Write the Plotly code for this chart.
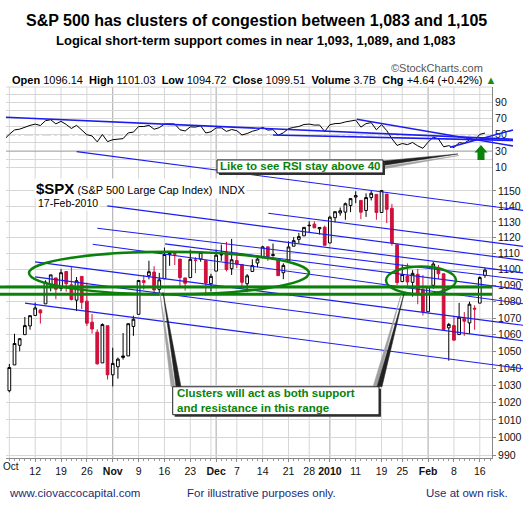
import numpy as np
import plotly.graph_objects as go

# ------------------------------------------------------------------ data
dates = (
    ["2009-10-%02d" % d for d in [1, 2, 5, 6, 7, 8, 9, 12, 13, 14, 15, 16, 19, 20, 21, 22, 23, 26, 27, 28, 29, 30]]
    + ["2009-11-%02d" % d for d in [2, 3, 4, 5, 6, 9, 10, 11, 12, 13, 16, 17, 18, 19, 20, 23, 24, 25, 27, 30]]
    + ["2009-12-%02d" % d for d in [1, 2, 3, 4, 7, 8, 9, 10, 11, 14, 15, 16, 17, 18, 21, 22, 23, 24, 28, 29, 30, 31]]
    + ["2010-01-%02d" % d for d in [4, 5, 6, 7, 8, 11, 12, 13, 14, 15, 19, 20, 21, 22, 25, 26, 27, 28, 29]]
    + ["2010-02-%02d" % d for d in [1, 2, 3, 4, 5, 8, 9, 10, 11, 12, 16, 17]]
)
opens = [1054.91, 1029.71, 1026.87, 1042.02, 1053.65, 1060.03, 1065.28, 1071.63, 1074.96, 1078.68, 1090.36, 1094.67, 1088.22, 1098.64, 1090.36, 1080.96, 1095.62, 1080.36, 1067.54, 1061.51, 1043.19, 1065.41,
         1036.18, 1040.92, 1047.30, 1047.30, 1064.95, 1072.31, 1091.86, 1096.04, 1098.31, 1087.59, 1094.13, 1109.22, 1109.44, 1106.44, 1094.66, 1094.86, 1105.83, 1106.49, 1105.47, 1091.07,
         1098.89, 1109.03, 1110.59, 1100.43, 1105.52, 1103.04, 1091.07, 1098.69, 1103.96, 1107.84, 1114.11, 1108.61, 1106.36, 1097.86, 1105.31, 1114.51, 1118.84, 1121.08, 1127.53, 1128.55, 1125.53, 1126.60,
         1116.56, 1132.66, 1135.71, 1136.27, 1140.52, 1145.96, 1143.81, 1137.31, 1145.68, 1147.72, 1136.03, 1147.95, 1138.68, 1115.49, 1092.40, 1095.80, 1091.94, 1096.93, 1087.61,
         1073.89, 1090.05, 1100.67, 1097.25, 1064.12, 1065.51, 1060.06, 1069.68, 1067.10, 1075.95, 1079.13, 1096.14]
highs = [1054.91, 1030.60, 1042.58, 1060.55, 1058.02, 1070.67, 1071.51, 1079.46, 1075.30, 1093.17, 1096.56, 1094.67, 1100.17, 1098.64, 1101.36, 1095.21, 1095.83, 1091.75, 1072.48, 1063.26, 1066.83, 1065.41,
         1052.18, 1046.36, 1061.00, 1066.65, 1071.48, 1093.19, 1096.42, 1105.37, 1101.97, 1097.79, 1113.69, 1110.52, 1111.10, 1106.44, 1094.66, 1112.38, 1107.56, 1111.18, 1105.47, 1097.24,
         1112.28, 1115.58, 1117.28, 1119.13, 1110.72, 1103.04, 1097.04, 1106.25, 1108.50, 1114.76, 1114.11, 1116.21, 1106.36, 1103.74, 1117.68, 1120.27, 1122.97, 1126.48, 1130.38, 1130.38, 1126.42, 1127.64,
         1133.87, 1136.63, 1139.19, 1142.46, 1145.39, 1149.74, 1143.81, 1148.40, 1150.41, 1147.77, 1150.45, 1147.95, 1141.58, 1115.49, 1102.97, 1103.69, 1099.51, 1100.22, 1096.45,
         1089.38, 1104.73, 1102.72, 1097.25, 1067.13, 1071.20, 1079.28, 1073.67, 1080.04, 1077.81, 1095.67, 1101.03]
lows = [1029.45, 1019.95, 1025.92, 1042.02, 1050.10, 1060.03, 1063.00, 1071.63, 1066.71, 1078.68, 1086.41, 1081.53, 1086.48, 1086.16, 1080.77, 1074.31, 1075.49, 1065.23, 1060.62, 1042.19, 1043.19, 1033.38,
        1029.38, 1033.94, 1045.15, 1047.30, 1059.32, 1072.31, 1087.40, 1093.81, 1084.90, 1085.33, 1094.13, 1102.19, 1102.70, 1088.40, 1086.81, 1094.86, 1097.63, 1104.75, 1083.74, 1086.25,
        1098.89, 1105.29, 1098.74, 1096.52, 1100.83, 1088.61, 1085.89, 1098.69, 1101.34, 1107.84, 1105.35, 1107.96, 1095.88, 1093.88, 1105.31, 1114.51, 1116.41, 1121.08, 1123.51, 1126.08, 1121.94, 1114.81,
        1116.56, 1129.66, 1133.95, 1131.32, 1136.22, 1142.02, 1131.77, 1133.18, 1143.80, 1131.39, 1135.77, 1129.25, 1114.84, 1090.18, 1092.40, 1089.86, 1083.11, 1078.46, 1071.59,
        1073.89, 1087.96, 1093.97, 1062.78, 1044.50, 1056.51, 1060.06, 1059.34, 1060.59, 1062.97, 1079.13, 1094.72]
closes = [1029.85, 1025.21, 1040.46, 1054.72, 1057.58, 1065.48, 1071.49, 1076.19, 1073.19, 1092.02, 1096.56, 1087.68, 1097.91, 1091.06, 1081.40, 1092.91, 1079.60, 1066.95, 1063.41, 1042.63, 1066.11, 1036.19,
          1042.88, 1045.41, 1046.50, 1066.63, 1069.30, 1093.08, 1093.01, 1098.51, 1087.24, 1093.48, 1109.30, 1110.32, 1109.80, 1094.90, 1091.38, 1106.24, 1105.65, 1110.63, 1091.49, 1095.63,
          1108.86, 1109.24, 1099.92, 1105.98, 1103.25, 1091.94, 1095.95, 1102.35, 1106.41, 1114.11, 1107.93, 1109.18, 1096.08, 1102.47, 1114.05, 1118.02, 1120.59, 1126.48, 1127.78, 1126.20, 1126.42, 1115.10,
          1132.99, 1136.52, 1137.14, 1141.69, 1144.98, 1146.98, 1136.22, 1145.68, 1148.46, 1136.03, 1150.23, 1138.04, 1116.48, 1091.76, 1096.78, 1092.17, 1097.50, 1084.53, 1073.87,
          1089.19, 1103.32, 1097.28, 1063.11, 1066.19, 1056.74, 1070.52, 1068.13, 1078.47, 1075.51, 1094.87, 1099.51]
rsi = [45.7, 44.0, 50.6, 55.9, 56.9, 59.6, 61.5, 63.1, 61.4, 67.3, 68.5, 63.4, 66.5, 62.7, 57.7, 61.6,
       55.2, 50.0, 48.5, 41.2, 50.3, 41.5, 43.9, 44.8, 45.2, 52.3, 53.2, 60.1, 60.1, 61.6, 56.8, 58.7,
       63.2, 63.5, 63.2, 56.1, 54.6, 59.7, 59.4, 61.1, 52.1, 53.7, 58.4, 58.5, 54.1, 56.4,
       55.0, 49.7, 51.5, 54.3, 56.0, 59.2, 55.7, 56.3, 49.3, 52.4, 57.5, 59.1, 60.2, 62.6, 63.1, 61.9,
       62.0, 54.0, 62.3, 63.7, 64.0, 65.8, 67.2, 68.0, 59.4, 63.7, 64.9, 56.1, 62.4, 55.1, 45.1, 36.8,
       39.2, 37.8, 40.5, 36.3, 33.3, 40.9, 47.0, 44.9, 35.2, 36.5, 34.2, 40.2, 39.5, 43.8, 42.9, 50.5, 52.1]
prev_close = 1057.08
volume_text = "3.7B"

xtick_idx = [7, 12, 17, 22, 27, 32, 37, 42, 46, 51, 56, 60, 64, 69, 74, 78, 83, 88, 93]
xtick_txt = ["12", "19", "26", "<b>Nov</b>", "9", "16", "23", "<b>Dec</b>", "7", "14", "21", "28", "<b>2010</b>",
             "11", "19", "25", "<b>Feb</b>", "8", "16"]
week_grid = [2, 7, 12, 17, 27, 32, 37, 41, 46, 51, 56, 60, 69, 74, 78, 88, 93]
month_grid = [22, 42, 64, 83]
price_ticks = list(range(990, 1151, 10))
rsi_ticks = list(range(0, 101, 10))
support_levels = [1089.0, 1084.6]

# ------------------------------------------------------------------ geometry
W, H = 530, 517
PL, PR, PT, PB = 6, 492, 87, 458.3
SPLIT = 175.4
FONT = "Liberation Sans, Arial, sans-serif"


def fx(px):
    return (px - PL) / (PR - PL)


def fy(py):
    return (PB - py) / (PB - PT)


ydom = fy(SPLIT)
n = len(closes)
idx = list(range(n))
prevs = [prev_close] + closes[:-1]
up_day = [c >= p for c, p in zip(closes, prevs)]


def pick(arr, want):
    return [a for a, u in zip(arr, up_day) if u == want]


fig = go.Figure()
for want, col, fill_up, fill_dn in [(True, "black", "white", "black"), (False, "#d1103b", "white", "#d1103b")]:
    fig.add_trace(go.Candlestick(
        x=pick(idx, want), open=pick(opens, want), high=pick(highs, want),
        low=pick(lows, want), close=pick(closes, want), text=pick(dates, want),
        increasing=dict(line=dict(color=col, width=1), fillcolor=fill_up),
        decreasing=dict(line=dict(color=col, width=1), fillcolor=fill_dn),
        whiskerwidth=0, xaxis="x", yaxis="y", hoverinfo="skip", showlegend=False))

fig.add_trace(go.Scatter(x=idx, y=rsi, mode="lines", line=dict(color="black", width=1),
                         xaxis="x", yaxis="y2", hoverinfo="skip", showlegend=False))

shapes = []
for i in week_grid:
    shapes.append(dict(type="line", xref="x", yref="paper", x0=i, x1=i, y0=0, y1=1,
                       line=dict(color="#d6d6d6", width=1), layer="below"))
for i in month_grid:
    shapes.append(dict(type="line", xref="x", yref="paper", x0=i, x1=i, y0=0, y1=1,
                       line=dict(color="#a6a6a6", width=1), layer="below"))
for v, dash in [(70, "solid"), (30, "solid"), (50, "dashdot")]:
    shapes.append(dict(type="line", xref="paper", yref="y2", x0=0, x1=1, y0=v, y1=v,
                       line=dict(color="#777777", width=1, dash=dash), layer="below"))
shapes.append(dict(type="line", xref="paper", yref="paper", x0=0, x1=1, y0=1, y1=1,
                   line=dict(color="#d6d6d6", width=1), layer="below"))

# blue trend lines (pixel endpoints)
rsi_lines = [((6, 117.3), (513, 139.3)), ((273, 135), (513, 140.5)),
             ((356.7, 119.3), (513, 146)), ((450, 147.3), (513, 130))]
price_lines = [((76.7, 151.7), (523, 210.5)), ((107.3, 206), (523, 260.5)),
               ((97.3, 228.3), (523, 280)), ((92.7, 244.3), (523, 304)),
               ((35, 262), (523, 325.5)), ((35, 277), (523, 341)),
               ((25, 303.3), (523, 369)), ((268.3, 213.3), (523, 246.5)),
               ((165, 244), (523, 290)), ((268.3, 240), (523, 273))]
for (a, b) in rsi_lines:
    shapes.append(dict(type="line", xref="paper", yref="paper", x0=fx(a[0]), y0=fy(a[1]),
                       x1=fx(b[0]), y1=fy(b[1]), line=dict(color="#1c1cf0", width=1.6)))
for (a, b) in price_lines:
    shapes.append(dict(type="line", xref="paper", yref="paper", x0=fx(a[0]), y0=fy(a[1]),
                       x1=fx(b[0]), y1=fy(b[1]), line=dict(color="#1c1cf0", width=1.1)))

# green support lines
for lv in support_levels:
    shapes.append(dict(type="line", xref="paper", yref="y", x0=fx(0), x1=1, y0=lv, y1=lv,
                       line=dict(color="#0a820a", width=3)))
# green ellipses
for (x0, y0, x1, y1) in [(29, 252, 309, 294.5), (386, 266.7, 456, 294.3)]:
    shapes.append(dict(type="circle", xref="paper", yref="paper", x0=fx(x0), x1=fx(x1),
                       y0=fy(y1), y1=fy(y0), line=dict(color="#0a820a", width=2.5)))


def poly(pts):
    return "M " + " L ".join("%.5f,%.5f" % (fx(x), fy(y)) for x, y in pts) + " Z"


# callout pointers
for pts, col in [([(383, 166.5), (383, 169), (459, 155.5)], "#a0a0a0"),
                 ([(383, 161), (383, 165.5), (458, 154)], "#222222"),
                 ([(171, 387), (175, 387), (160, 293.5)], "#a0a0a0"),
                 ([(176, 387), (181, 387), (163, 292.5)], "#222222"),
                 ([(373, 387), (377, 387), (401, 295)], "#a0a0a0"),
                 ([(377, 387), (382, 387), (404, 294)], "#222222")]:
    shapes.append(dict(type="path", xref="paper", yref="paper", path=poly(pts),
                       fillcolor=col, line=dict(color=col, width=0.5)))
# callout boxes
for (x0, y0, x1, y1) in [(217, 160, 383, 173), (172.7, 387, 379, 415)]:
    shapes.append(dict(type="rect", xref="paper", yref="paper", x0=fx(x0 + 2), x1=fx(x1 + 2),
                       y0=fy(y1 + 2), y1=fy(y0 + 2), fillcolor="#333333", line=dict(width=0)))
    shapes.append(dict(type="rect", xref="paper", yref="paper", x0=fx(x0), x1=fx(x1),
                       y0=fy(y1), y1=fy(y0), fillcolor="white", line=dict(color="#222222", width=1)))
# green up arrow
shapes.append(dict(type="path", xref="paper", yref="paper",
                   path=poly([(477.5, 160), (477.5, 152.5), (474.5, 152.5), (481, 145), (487.5, 152.5),
                              (484.5, 152.5), (484.5, 160)]),
                   fillcolor="#0a820a", line=dict(width=0)))

ann = []


def text(x, y, t, size, color="black", xanchor="center", bg=None, align="left", family=FONT):
    a = dict(xref="paper", yref="paper", x=fx(x), y=fy(y), text=t, showarrow=False,
             xanchor=xanchor, yanchor="middle", align=align,
             font=dict(size=size, color=color, family=family))
    if bg:
        a["bgcolor"] = bg
        a["borderpad"] = 1
    ann.append(a)


text(256.5, 20.7, "<b>S&amp;P 500 has clusters of congestion between 1,083 and 1,105</b>", 16)
text(256, 40.7, "<b>Logical short-term support comes in near 1,093, 1,089, and 1,083</b>", 13)
text(485, 67.7, "\u00a9StockCharts.com", 11, color="#555555", xanchor="right")
chg = closes[-1] - closes[-2]
pct = chg / closes[-2] * 100
hdr = ("<b>Open</b> %.2f  <b>High</b> %.2f  <b>Low</b> %.2f  <b>Close</b> %.2f  <b>Volume</b> %s  "
       "<b>Chg</b> %+.2f (%+.2f%%) <span style='color:#1a8a1a'>\u25b2</span>"
       % (opens[-1], highs[-1], lows[-1], closes[-1], volume_text, chg, pct))
text(10, 80, hdr, 11, xanchor="left")
text(34, 188.5, "<b><span style='font-size:15px'>$SPX</span></b> (S&amp;P 500 Large Cap Index)  INDX",
     11, xanchor="left", bg="white")
text(36, 203, "17-Feb-2010", 10.5, xanchor="left", bg="white")
text(300, 166.5, "<b>Like to see RSI stay above 40</b>", 11.5, color="#0a820a")
text(175, 401, "<b>Clusters will act as both support<br>and resistance in this range</b>", 11.5,
     color="#0a820a", xanchor="left")
text(1, 467, "Oct", 10, color="#111111", xanchor="left")
text(7, 493, "www.ciovaccocapital.com", 11.5, color="#1a2b78", xanchor="left")
text(261, 493, "For illustrative purposes only.", 11.5, color="#1a2b78")
text(510, 493, "Use at own risk.", 11.5, color="#1a2b78", xanchor="right")

fig.update_layout(
    width=W, height=H, margin=dict(l=PL, r=W - PR, t=PT, b=H - PB, pad=0),
    paper_bgcolor="white", plot_bgcolor="white", showlegend=False, boxgap=0.25,
    shapes=shapes, annotations=ann,
    xaxis=dict(domain=[0, 1], range=[1.354, 95.36], anchor="y", tickmode="array",
               tickvals=xtick_idx, ticktext=xtick_txt, ticks="outside", ticklen=3, tickcolor="#888",
               showline=True, linecolor="#888", linewidth=1, showgrid=False, zeroline=False,
               rangeslider=dict(visible=False), tickfont=dict(size=10.5, family=FONT, color="#111"),
               minor=dict(ticks="outside", ticklen=2, dtick=1, tick0=0, tickcolor="#999", showgrid=False)),
    yaxis=dict(domain=[0, ydom], type="log", range=[np.log10(988.45), np.log10(1160.2)], side="right",
               anchor="x", tickmode="array", tickvals=price_ticks, ticktext=[str(v) for v in price_ticks],
               ticks="outside", ticklen=3, tickcolor="#888", showline=True, linecolor="#888",
               gridcolor="#d6d6d6", zeroline=False, tickfont=dict(size=10.5, family=FONT, color="#111")),
    yaxis2=dict(domain=[ydom, 1], range=[0, 108.8], side="right", anchor="x", tickmode="array",
                tickvals=rsi_ticks, ticktext=[str(v) if v % 20 == 10 else "" for v in rsi_ticks],
                ticks="", showline=True, linecolor="#888", gridcolor="#d6d6d6", zeroline=False,
                tickfont=dict(size=10.5, family=FONT, color="#111")),
)
fig.write_html("out.html")
